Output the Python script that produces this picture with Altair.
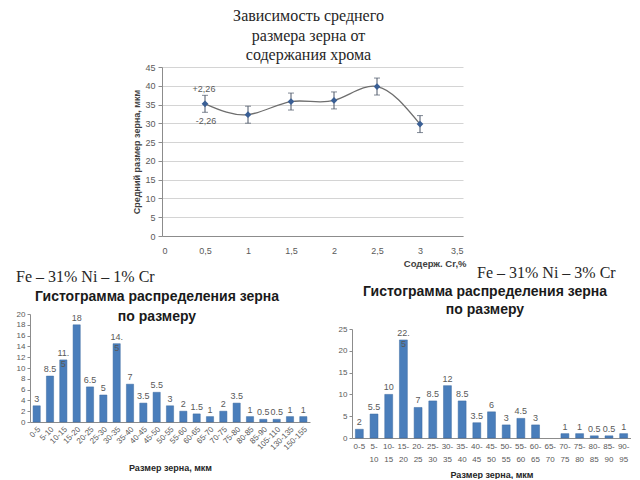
import altair as alt
import pandas as pd

# ---------------- data ----------------
main_title = ["Зависимость среднего", "размера зерна от", "содержания хрома"]
cr_content = [0.5, 1.0, 1.5, 2.0, 2.5, 3.0]
grain_mean = [35.2, 32.3, 35.8, 36.1, 39.8, 29.8]
grain_err = [2.26, 2.26, 2.26, 2.26, 2.26, 2.26]
err_text_top = "+2,26"
err_text_bottom = "-2,26"
top_x_title = "Содерж. Cr,%"
top_y_title = "Средний размер зерна, мкм"
top_x_ticks = [0, 0.5, 1, 1.5, 2, 2.5, 3, 3.5]
top_y_ticks = [0, 5, 10, 15, 20, 25, 30, 35, 40, 45]

hist_title = ["Гистограмма распределения зерна", "по размеру"]
hist_x_title = "Размер зерна, мкм"

left_alloy = "Fe – 31% Ni – 1% Cr"
left_bins = ["0-5", "5-10", "10-15", "15-20", "20-25", "25-30", "30-35", "35-40",
             "40-45", "45-50", "50-55", "55-60", "60-65", "65-70", "70-75", "75-80",
             "80-85", "85-90", "105-110", "130-135", "150-155"]
left_vals = [3, 8.5, 11.5, 18, 6.5, 5, 14.5, 7, 3.5, 5.5, 3, 2, 1.5, 1, 2, 3.5,
             1, 0.5, 0.5, 1, 1]
left_labels = ["3", "8.5", "11.\n5", "18", "6.5", "5", "14.\n5", "7", "3.5", "5.5",
               "3", "2", "1.5", "1", "2", "3.5", "1", "0.5", "0.5", "1", "1"]
left_y_ticks = [0, 2, 4, 6, 8, 10, 12, 14, 16, 18, 20]

right_alloy = "Fe – 31% Ni – 3% Cr"
right_bins = ["0-5", "5-10", "10-15", "15-20", "20-25", "25-30", "30-35", "35-40",
              "40-45", "45-50", "50-55", "55-60", "60-65", "65-70", "70-75", "75-80",
              "80-85", "85-90", "90-95"]
right_vals = [2, 5.5, 10, 22.5, 7, 8.5, 12, 8.5, 3.5, 6, 3, 4.5, 3, None, 1, 1,
              0.5, 0.5, 1]
right_labels = ["2", "5.5", "10", "22.\n5", "7", "8.5", "12", "8.5", "3.5", "6",
                "3", "4.5", "3", "", "1", "1", "0.5", "0.5", "1"]
right_y_ticks = [0, 5, 10, 15, 20, 25]

# ---------------- styles ----------------
SANS = "Liberation Sans"
SERIF = "Liberation Serif"
BAR = "#4A7EBB"
AXIS_GRAY = "#8c8c8c"
LABEL_GRAY = "#595959"

# ---------------- top chart ----------------
top_df = pd.DataFrame({"cr": cr_content, "d": grain_mean, "err": grain_err})

x_top = alt.X(
    "cr:Q",
    scale=alt.Scale(domain=[0, 3.5], nice=False),
    axis=alt.Axis(
        values=top_x_ticks,
        labelExpr="replace(toString(datum.value), '.', ',')",
        grid=False, tickSize=0, labelPadding=10,
        labelFont=SANS, labelFontSize=9, labelColor=LABEL_GRAY,
        domainColor=AXIS_GRAY,
        title=top_x_title, titleFont=SANS, titleFontSize=9.5, titleFontWeight="bold",
        titleColor="#404040", titleAlign="right", titleAnchor="end",
        titleX=304, titleY=32, titleBaseline="bottom",
    ),
)
y_axis_top = alt.Axis(
    values=top_y_ticks, grid=True, gridColor="#d4d4d4",
    tickSize=4, tickColor=AXIS_GRAY, domainColor=AXIS_GRAY,
    labelFont=SANS, labelFontSize=9, labelColor=LABEL_GRAY, labelPadding=3,
    title=top_y_title, titleFont=SANS, titleFontSize=9, titleFontWeight="bold",
    titleColor="#404040", titlePadding=3,
)
y_scale_top = alt.Scale(domain=[0, 45], nice=False)

base_top = alt.Chart(top_df)
line = base_top.mark_line(interpolate="natural", color="#6e6e6e", strokeWidth=1.3).encode(
    x=x_top, y=alt.Y("d:Q", scale=y_scale_top, axis=y_axis_top)
)
err_base = base_top.transform_calculate(
    lo="datum.d - datum.err", hi="datum.d + datum.err"
)
rules = err_base.mark_rule(color="#4a5566", strokeWidth=1).encode(
    x=x_top, y=alt.Y("lo:Q", scale=y_scale_top, axis=y_axis_top), y2="hi:Q"
)
cap_lo = err_base.mark_tick(orient="horizontal", size=6, thickness=1, color="#4a5566").encode(
    x=x_top, y=alt.Y("lo:Q", scale=y_scale_top, axis=y_axis_top)
)
cap_hi = err_base.mark_tick(orient="horizontal", size=6, thickness=1, color="#4a5566").encode(
    x=x_top, y=alt.Y("hi:Q", scale=y_scale_top, axis=y_axis_top)
)
points = base_top.mark_point(shape="diamond", filled=True, size=45, color="#3A5F95", opacity=1).encode(
    x=x_top, y=alt.Y("d:Q", scale=y_scale_top, axis=y_axis_top)
)
annot_df = pd.DataFrame({
    "cr": [cr_content[0]],
    "hi": [grain_mean[0] + grain_err[0]],
    "lo": [grain_mean[0] - grain_err[0]],
    "t_hi": [err_text_top],
    "t_lo": [err_text_bottom],
})
annot_hi = alt.Chart(annot_df).mark_text(
    font=SANS, fontSize=9, color=LABEL_GRAY, dy=-6, dx=-1, baseline="middle"
).encode(x=x_top, y=alt.Y("hi:Q", scale=y_scale_top, axis=y_axis_top), text="t_hi:N")
annot_lo = alt.Chart(annot_df).mark_text(
    font=SANS, fontSize=9, color=LABEL_GRAY, dy=9, dx=1, baseline="middle"
).encode(x=x_top, y=alt.Y("lo:Q", scale=y_scale_top, axis=y_axis_top), text="t_lo:N")

top = alt.layer(line, rules, cap_lo, cap_hi, points, annot_hi, annot_lo).properties(
    width=301, height=169,
    title=alt.TitleParams(
        main_title, font=SERIF, fontSize=16, fontWeight="normal", color="#262626",
        anchor="middle", dx=-4, offset=0, lineHeight=19.5,
    ),
)

spacer = alt.Chart(pd.DataFrame({"s": [0]})).mark_point(opacity=0).encode(
    x=alt.X("s:Q", axis=None), y=alt.Y("s:Q", axis=None)
).properties(width=132, height=10)

row1 = alt.hconcat(spacer, top, spacing=0, bounds="flush")


# ---------------- histograms ----------------
def histogram(bins, vals, labels, y_ticks, y_max, width, height, y_range,
              alloy, alloy_xy, title_xy, x_axis, title_lh):
    df = pd.DataFrame({"bin": bins, "v": vals, "lab": labels})
    x = alt.X("bin:N", sort=bins,
              scale=alt.Scale(domain=bins, paddingInner=0.46, paddingOuter=0.23),
              axis=x_axis)
    y_scale = alt.Scale(domain=[0, y_max], nice=False)
    if y_range is not None:
        y_scale = alt.Scale(domain=[0, y_max], nice=False, range=y_range)
    y_ax = alt.Axis(values=y_ticks, grid=False, tickSize=3, tickColor=AXIS_GRAY,
                    domainColor=AXIS_GRAY, labelFont=SANS, labelFontSize=8,
                    labelColor=LABEL_GRAY, labelPadding=2, title=None)
    base = alt.Chart(df)
    bars = base.mark_bar(color=BAR, stroke="#3d6aa1", strokeWidth=0.5).encode(
        x=x, y=alt.Y("v:Q", scale=y_scale, axis=y_ax)
    )
    txt = base.mark_text(font=SANS, fontSize=9, color=LABEL_GRAY, baseline="bottom",
                         dy=-2, lineBreak="\n", lineHeight=11).encode(
        x=x, y=alt.Y("v:Q", scale=y_scale, axis=y_ax), text="lab:N"
    )
    one = alt.Chart(pd.DataFrame({"k": [0]}))
    alloy_txt = one.mark_text(font=SERIF, fontSize=16, color="#262626", align="left",
                              baseline="middle").encode(
        x=alt.value(alloy_xy[0]), y=alt.value(alloy_xy[1]), text=alt.value(alloy)
    )
    title_txt = one.mark_text(font=SANS, fontSize=14, fontWeight="bold", color="#1a1a1a",
                              align="center", baseline="middle", lineHeight=title_lh).encode(
        x=alt.value(title_xy[0]), y=alt.value(title_xy[1]), text=alt.value(hist_title)
    )
    return alt.layer(bars, txt, alloy_txt, title_txt).properties(width=width, height=height)


left_x_axis = alt.Axis(
    ticks=False, domainColor=AXIS_GRAY, labelAngle=-45, labelFont=SANS, labelFontSize=8,
    labelColor=LABEL_GRAY, labelPadding=3,
    title=hist_x_title, titleFont=SANS, titleFontSize=9, titleFontWeight="bold",
    titleColor="#262626", titleY=45, titleBaseline="middle",
)
right_x_axis = alt.Axis(
    ticks=False, domainColor=AXIS_GRAY, labelAngle=0, labelFont=SANS, labelFontSize=8,
    labelColor=LABEL_GRAY, labelPadding=4, labelLineHeight=13,
    labelExpr="length(datum.value) > 3 ? [slice(datum.value, 0, indexof(datum.value, '-') + 1), slice(datum.value, indexof(datum.value, '-') + 1)] : datum.value",
    title=hist_x_title, titleFont=SANS, titleFontSize=9, titleFontWeight="bold",
    titleColor="#262626", titleY=36, titleBaseline="middle",
)

left = histogram(left_bins, left_vals, left_labels, left_y_ticks, 20, 280, 108, None,
                 left_alloy, (-14, -37), (127, -17), left_x_axis, 20)
right = histogram(right_bins, right_vals, right_labels, right_y_ticks, 25, 279, 124,
                  [124, 15], right_alloy, (125, -41), (133, -22), right_x_axis, 18)

row2 = alt.hconcat(left, right, spacing=42, bounds="flush")

chart = alt.vconcat(row1, row2, spacing=247, bounds="flush").properties(
    padding={"left": 8, "top": 0, "right": 0, "bottom": 0},
    background="white",
).configure_view(stroke=None)

chart.save("out.html", embed_options={"renderer": "svg", "actions": False})
